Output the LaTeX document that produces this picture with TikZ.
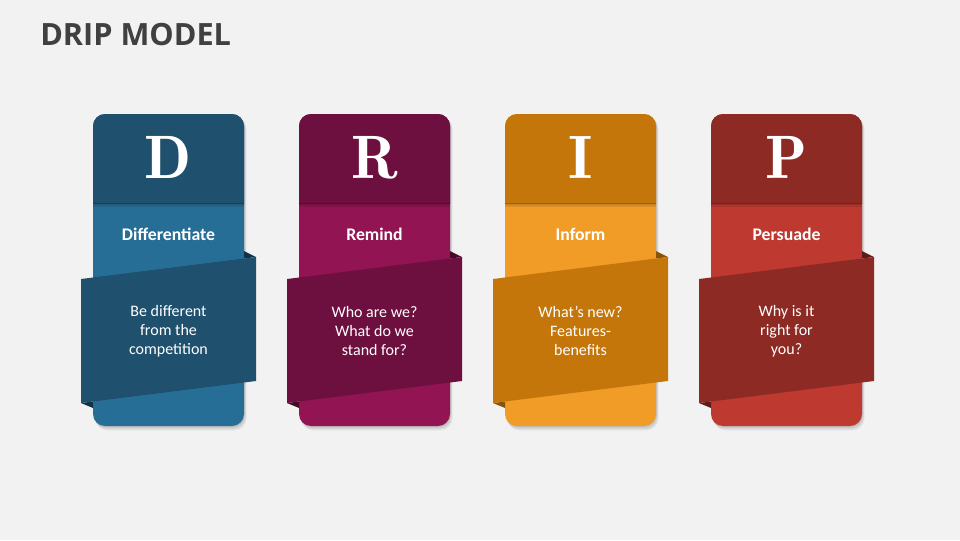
\documentclass[tikz,border=0pt]{standalone}
\usepackage{fontspec}
\newfontfamily\carl{Carlito}
\newfontfamily\titlefont{Open Sans}
\definecolor{bg}{HTML}{F2F2F2}
\definecolor{titlegray}{HTML}{404040}
\definecolor{h1}{HTML}{1F506D}
\definecolor{b1}{HTML}{276E97}
\definecolor{f1}{HTML}{123347}
\definecolor{h2}{HTML}{6D0F3F}
\definecolor{b2}{HTML}{931453}
\definecolor{f2}{HTML}{470928}
\definecolor{h3}{HTML}{C5760A}
\definecolor{b3}{HTML}{F29C28}
\definecolor{f3}{HTML}{8A5206}
\definecolor{h4}{HTML}{8D2A24}
\definecolor{b4}{HTML}{BE3A30}
\definecolor{f4}{HTML}{5E1B17}
\tikzset{
  letterstyle/.style={anchor=base, inner sep=0pt, text=white, font=\fontseries{b}\selectfont\fontsize{46}{50}\selectfont},
  headstyle/.style={anchor=base, inner sep=0pt, text=white, font=\carl\bfseries\fontsize{13.3}{15}\selectfont},
  bodystyle/.style={anchor=center, inner sep=0pt, align=center, text=white, font=\carl\fontsize{12}{14.25}\selectfont},
}
\begin{document}
\begin{tikzpicture}[x=0.75pt,y=-0.75pt]
\fill[bg] (0,0) rectangle (960,540);
\useasboundingbox (0,0) rectangle (960,540);
\node[anchor=base west, inner sep=0pt, text=titlegray, font=\titlefont\bfseries\fontsize{23}{28}\selectfont] (title) at (40,45) {DRIP MODEL};
\foreach \i/\L/\H/\B in {1/D/Differentiate/{Be different\\from the\\competition},2/R/Remind/{Who are we?\\What do we\\stand for?},3/I/Inform/{What’s new?\\Features-\\benefits},4/P/Persuade/{Why is it\\right for\\you?}}{
  \pgfmathsetmacro\x{93+206*(\i-1)}
  % shadow
  \foreach \k in {1,...,5}{
    \fill[black, opacity=0.045, rounded corners=9pt] (\x+0.5*\k,114+0.6*\k) rectangle (\x+151+0.5*\k,426+0.9*\k);
  }
  % card body
  \fill[b\i, rounded corners=9pt] (\x,114) rectangle ++(151,312);
  \begin{scope}
    \clip (\x,110) rectangle (\x+151,203);
    \fill[h\i, rounded corners=9pt] (\x,114) rectangle ++(151,312);
  \end{scope}
  \fill[black, opacity=0.10] (\x,203) rectangle (\x+151,207);
  \fill[black, opacity=0.08] (\x,203) rectangle (\x+151,205);
  % folds
  \fill[f\i] (\x+151,251) -- (\x+163,257) -- (\x+151,258.5) -- cycle;
  \fill[f\i] (\x-12,403) -- (\x,401.5) -- (\x,408) -- cycle;
  % ribbon
  \fill[h\i] (\x-12,279) -- (\x+163,257) -- (\x+163,381) -- (\x-12,403) -- cycle;
  % texts
  \node[letterstyle] (L\i) at (\x+75.5,178.5) {\L};
  \node[headstyle] (H\i) at (\x+75.5,240) {\H};
  \node[bodystyle] (T\i) at (\x+75.5,331) {\B};
}
\end{tikzpicture}
\end{document}
